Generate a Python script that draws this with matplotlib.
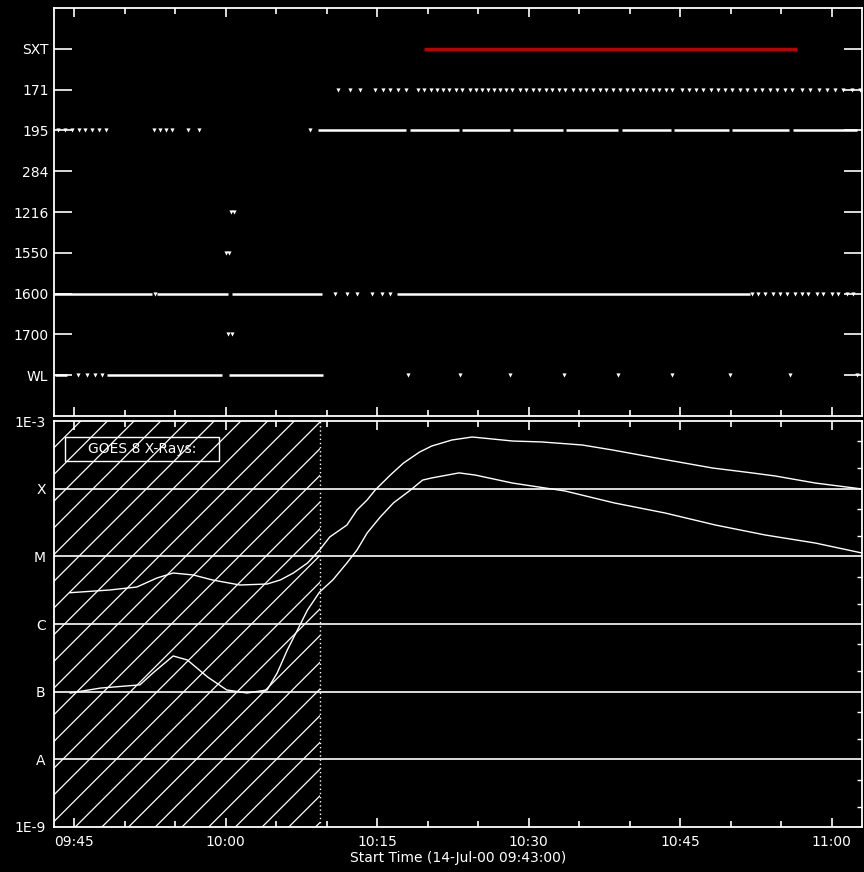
import matplotlib
matplotlib.use("Agg")
import matplotlib.pyplot as plt
from matplotlib.patches import Rectangle
from matplotlib.ticker import FixedLocator, FuncFormatter, NullFormatter, LogLocator
import matplotlib.transforms as mtransforms

plt.rcParams["font.family"] = ["DejaVu Sans"]

# ---------------------------------------------------------------------------
# Time axis: minutes after 14-Jul-00 09:43:00
START_CLOCK_MIN = 9 * 60 + 43
T_SPAN = (0.0, 80.0)
MAJOR_TICKS = [2, 17, 32, 47, 62, 77]          # 09:45 ... 11:00
MINOR_TICKS = [7, 12, 22, 27, 37, 42, 52, 57, 67, 72]
START_LABEL = "Start Time (14-Jul-00 09:43:00)"

# ---------------------------------------------------------------------------
# Observation coverage per channel (minutes after start)
channel_labels = ["WL", "1700", "1600", "1550", "1216", "284", "195", "171", "SXT"]

wl_frames = [2.4, 3.3, 4.1, 4.8, 35.0, 40.2, 45.1, 50.5, 55.8, 61.2, 66.9, 72.9, 79.5]
wl_runs = [(0.1, 1.3), (5.2, 16.6), (17.3, 26.6)]

uv1700_frames = [17.2, 17.6]

uv1600_frames = [10.0, 27.8, 29.0, 30.0, 31.5, 32.5, 33.3,
                 69.1, 69.7, 70.4, 71.2, 71.9, 72.6, 73.4, 74.1, 74.7,
                 75.5, 76.1, 77.0, 77.6, 78.5, 79.1]
uv1600_runs = [(0.0, 9.7), (10.2, 17.2), (17.6, 26.5), (34.0, 68.9)]

uv1550_frames = [17.0, 17.3]
lya1216_frames = [17.5, 17.8]
euv284_frames = []

euv195_frames = [0.4, 1.1, 1.8, 2.5, 3.1, 3.8, 4.5, 5.1,
                 9.9, 10.5, 11.1, 11.7, 13.3, 14.4, 25.3]
euv195_runs = [(26.1, 34.9), (35.2, 40.1), (40.4, 45.1), (45.4, 50.4),
               (50.7, 55.8), (56.2, 61.1), (61.4, 66.8), (67.1, 72.8),
               (73.2, 79.5)]

euv171_frames = [28.1, 29.3, 30.3,
                 31.8, 32.6, 33.3, 34.1, 34.9,
                 36.0, 36.6, 37.3, 37.9, 38.5, 39.1, 39.8, 40.4,
                 41.2, 41.8, 42.4, 43.0, 43.6, 44.2, 44.8, 45.3,
                 46.1, 46.7, 47.4, 48.0, 48.7, 49.3, 50.0, 50.6,
                 51.4, 52.1, 52.7, 53.4, 54.1, 54.7, 55.3, 56.0,
                 56.7, 57.3, 58.0, 58.6, 59.3, 59.9, 60.6, 61.2,
                 62.2, 62.9, 63.6, 64.3, 65.0, 65.7, 66.4, 67.1,
                 67.9, 68.6, 69.4, 70.1, 70.9, 71.6, 72.4, 73.1,
                 74.1, 74.9, 75.7, 76.5, 77.3, 78.1, 79.0, 79.8]

sxt_runs = [(36.6, 73.6)]

# ---------------------------------------------------------------------------
# GOES 8 X-ray fluxes (W m^-2)
goes_long_t = [1.6, 5.5, 8.2, 10.2, 11.8, 13.8, 15.7, 18.4, 21.1, 22.4, 23.7,
               25.1, 26.3, 27.3, 29.0, 30.0, 31.0, 31.8, 33.3, 34.6, 36.2,
               37.4, 39.4, 41.4, 42.4, 45.4, 48.3, 52.3, 55.3, 60.2, 65.2,
               69.1, 71.4, 75.4, 80.0]
goes_long_flux = [2.90e-6, 3.18e-6, 3.52e-6, 4.79e-6, 5.67e-6, 5.30e-6, 4.47e-6,
                  3.77e-6, 3.90e-6, 4.47e-6, 5.67e-6, 7.97e-6, 1.24e-5, 1.93e-5,
                  2.90e-5, 4.84e-5, 6.80e-5, 9.55e-5, 1.59e-4, 2.39e-4, 3.48e-4,
                  4.27e-4, 5.24e-4, 5.80e-4, 5.61e-4, 5.06e-4, 4.90e-4, 4.42e-4,
                  3.73e-4, 2.74e-4, 2.02e-4, 1.71e-4, 1.54e-4, 1.21e-4, 9.89e-5]

goes_short_t = [1.6, 4.6, 8.5, 9.8, 11.8, 13.2, 15.2, 17.1, 19.1, 21.1, 22.1,
                23.1, 24.1, 25.1, 26.3, 27.6, 29.0, 30.0, 31.0, 32.3, 33.6,
                35.3, 36.5, 37.4, 40.1, 41.7, 45.4, 50.6, 55.5, 60.5, 65.5,
                70.4, 75.4, 80.0]
goes_short_flux = [9.55e-8, 1.13e-7, 1.26e-7, 1.89e-7, 3.37e-7, 2.94e-7, 1.65e-7,
                   1.06e-7, 9.55e-8, 1.06e-7, 1.89e-7, 4.13e-7, 8.15e-7, 1.61e-6,
                   2.97e-6, 4.47e-6, 7.97e-6, 1.24e-5, 2.21e-5, 3.81e-5, 6.14e-5,
                   9.55e-5, 1.34e-4, 1.44e-4, 1.71e-4, 1.59e-4, 1.21e-4, 9.24e-5,
                   6.14e-5, 4.37e-5, 2.90e-5, 2.07e-5, 1.57e-5, 1.12e-5]

goes_class_levels = [1e-9, 1e-8, 1e-7, 1e-6, 1e-5, 1e-4, 1e-3]
goes_class_labels = ["1E-9", "A", "B", "C", "M", "X", "1E-3"]
GOES_TITLE = "GOES 8 X-Rays:"

# end of the shaded (pre-coverage) interval
SHADE_END = 26.3

FG = "white"
BG = "black"
SXT_COLOR = "#c00000"

# ---------------------------------------------------------------------------
W_PX, H_PX, DPI = 864, 872, 100
fig = plt.figure(figsize=(W_PX / DPI, H_PX / DPI), dpi=DPI, facecolor=BG)


def fig_rect(x0, y0, x1, y1):
    """Pixel box (top-left origin) -> figure fraction rect."""
    return [x0 / W_PX, 1 - y1 / H_PX, (x1 - x0) / W_PX, (y1 - y0) / H_PX]


ax_top = fig.add_axes(fig_rect(54, 8, 862, 416), facecolor=BG)
ax_bot = fig.add_axes(fig_rect(54, 421, 862, 827), facecolor=BG)


def clock_fmt(t, _pos=None):
    m = int(round(START_CLOCK_MIN + t))
    return f"{m // 60:02d}:{m % 60:02d}"


for ax in (ax_top, ax_bot):
    ax.set_xlim(*T_SPAN)
    for sp in ax.spines.values():
        sp.set_color(FG)
        sp.set_linewidth(1.3)
    ax.xaxis.set_major_locator(FixedLocator(MAJOR_TICKS))
    ax.xaxis.set_minor_locator(FixedLocator(MINOR_TICKS))
    ax.tick_params(axis="x", which="major", direction="in", length=6.5,
                   width=1.2, color=FG, top=True, bottom=True)
    ax.tick_params(axis="x", which="minor", direction="in", length=4,
                   width=1.2, color=FG, top=True, bottom=True)

# --- top panel: image coverage ---------------------------------------------
ax_top.set_ylim(0, len(channel_labels) + 1)
row = {name: i + 1 for i, name in enumerate(channel_labels)}
ax_top.set_yticks(list(row.values()))
ax_top.set_yticklabels(channel_labels)
ax_top.tick_params(axis="y", which="major", direction="in", length=13,
                   width=1.2, color=FG, left=True, right=True,
                   labelcolor=FG, labelsize=10, pad=4)
ax_top.xaxis.set_major_formatter(NullFormatter())

frames = {
    "WL": wl_frames, "1700": uv1700_frames, "1600": uv1600_frames,
    "1550": uv1550_frames, "1216": lya1216_frames, "284": euv284_frames,
    "195": euv195_frames, "171": euv171_frames,
}
runs = {"WL": wl_runs, "1600": uv1600_runs, "195": euv195_runs}

for name, times in frames.items():
    if times:
        ax_top.plot(times, [row[name]] * len(times), ls="none", marker="v",
                    ms=3.0, mew=0, color=FG)
for name, spans in runs.items():
    for a, b in spans:
        ax_top.plot([a, b], [row[name], row[name]], color=FG, lw=1.8,
                    solid_capstyle="butt")
for a, b in sxt_runs:
    ax_top.plot([a, b], [row["SXT"], row["SXT"]], color=SXT_COLOR, lw=2.3,
                solid_capstyle="butt")

# --- bottom panel: GOES light curves ----------------------------------------
ax_bot.set_yscale("log")
ax_bot.set_ylim(goes_class_levels[0], goes_class_levels[-1])
ax_bot.yaxis.set_major_locator(FixedLocator(goes_class_levels))
ax_bot.yaxis.set_minor_locator(LogLocator(base=10, subs=(2.0, 5.0)))
ax_bot.yaxis.set_major_formatter(FuncFormatter(
    lambda v, p: goes_class_labels[goes_class_levels.index(min(
        goes_class_levels, key=lambda L: abs(L / v - 1)))]))
ax_bot.yaxis.set_minor_formatter(NullFormatter())
ax_bot.tick_params(axis="y", which="major", length=0, labelcolor=FG,
                   labelsize=10, pad=6)
ax_bot.tick_params(axis="y", which="minor", direction="in", length=3.5,
                   width=1, color=FG, left=False, right=True)
ax_bot.xaxis.set_major_formatter(FuncFormatter(clock_fmt))
ax_bot.tick_params(axis="x", which="major", labelcolor=FG, labelsize=10,
                   pad=6)
ax_bot.set_xlabel(START_LABEL, color=FG, fontsize=10, labelpad=1)

for lvl in goes_class_levels[1:-1]:
    ax_bot.axhline(lvl, color=FG, lw=1.2, zorder=2)

ax_bot.plot(goes_long_t, goes_long_flux, color=FG, lw=1.0, zorder=3)
ax_bot.plot(goes_short_t, goes_short_flux, color=FG, lw=1.0, zorder=3)

# shaded interval: 45-degree hatch clipped to [0, SHADE_END]
blend = mtransforms.blended_transform_factory(ax_bot.transData, ax_bot.transAxes)
clip_rect = Rectangle((T_SPAN[0], 0), SHADE_END - T_SPAN[0], 1,
                      transform=blend, fill=False, lw=0)
ax_bot.add_patch(clip_rect)
bb = ax_bot.get_position()
ax_w_px = bb.width * W_PX
ax_h_px = bb.height * H_PX
hatch_step = 26.7
c = -ax_h_px
while c < ax_w_px:
    ln, = ax_bot.plot([c / ax_w_px, (c + ax_h_px) / ax_w_px], [0, 1],
                      transform=ax_bot.transAxes, color=FG, lw=0.9, zorder=1)
    ln.set_clip_path(clip_rect)
    c += hatch_step

ax_bot.axvline(SHADE_END, color=FG, lw=1.0, ls=(0, (1, 2)), zorder=2)

# title box
ax_bot.add_patch(Rectangle((0.0136, 0.9015), 0.1906, 0.0591,
                           transform=ax_bot.transAxes, fill=False,
                           ec=FG, lw=1.0, zorder=4))
ax_bot.text(0.109, 0.931, GOES_TITLE, transform=ax_bot.transAxes,
            ha="center", va="center", color=FG, fontsize=10, zorder=4)

fig.savefig("out.png", dpi=DPI, facecolor=BG)
